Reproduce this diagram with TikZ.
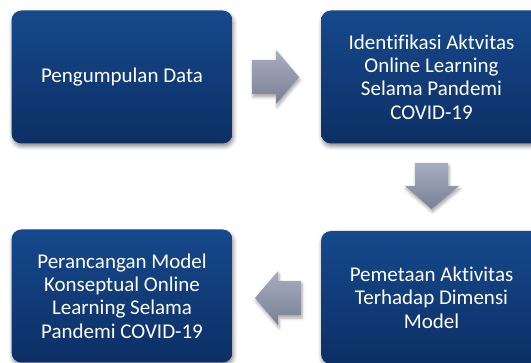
\documentclass[tikz,border=0pt]{standalone}
\usepackage{fontspec}
\setmainfont{Carlito}[Ligatures=NoCommon]
\usetikzlibrary{shadows.blur}
\definecolor{boxtop}{RGB}{22,73,140}
\definecolor{boxbot}{RGB}{12,47,101}
\definecolor{arrtop}{RGB}{168,174,192}
\definecolor{arrbot}{RGB}{122,128,148}
\begin{document}
\begin{tikzpicture}[x=1pt,y=-1pt,
  stagebox/.style={rectangle, rounded corners=10pt, minimum width=221pt, minimum height=133pt,
    inner sep=0pt, top color=boxtop, bottom color=boxbot, draw=none, text=white, align=center,
    font=\fontsize{21}{23.3}\selectfont,
    blur shadow={shadow xshift=1pt, shadow yshift=-3pt, shadow blur radius=4pt, shadow opacity=45}},
  blockarrow/.style={top color=arrtop, bottom color=arrbot, draw=none,
    blur shadow={shadow xshift=1pt, shadow yshift=-3pt, shadow blur radius=3pt, shadow opacity=35}}]
\useasboundingbox (0,0) rectangle (531,363);
\clip (0,0) rectangle (531,363);
\node[stagebox] (s1) at (122,77) {Pengumpulan Data};
\node[stagebox] (s2) at (431.5,77) {Identifikasi Aktvitas\\Online Learning\\Selama Pandemi\\COVID-19};
\node[stagebox] (s3) at (122,296) {Perancangan Model\\Konseptual Online\\Learning Selama\\Pandemi COVID-19};
\node[stagebox] (s4) at (431.5,297.5) {Pemetaan Aktivitas\\Terhadap Dimensi\\Model};
% block arrows
\path[blockarrow] (252,60) -- (276,60) -- (276,50) -- (299,77) -- (276,104) -- (276,94) -- (252,94) -- cycle;
\path[blockarrow] (415,163) -- (448,163) -- (448,186) -- (459,186) -- (431.5,209) -- (405,186) -- (415,186) -- cycle;
\path[blockarrow] (301,281) -- (278,281) -- (278,271) -- (255,298) -- (278,325) -- (278,315) -- (301,315) -- cycle;
\end{tikzpicture}
\end{document}
